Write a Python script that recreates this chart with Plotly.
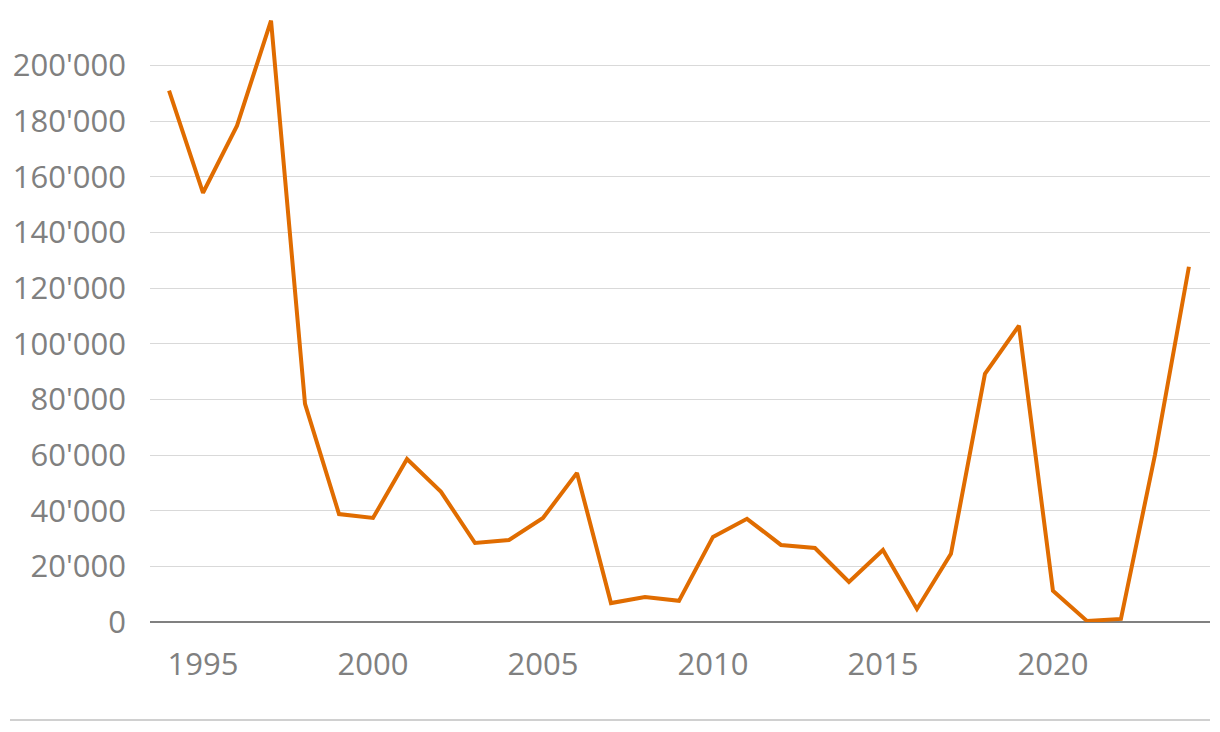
import plotly.graph_objects as go

years = list(range(1994, 2025))
values = [
    191000, 154300, 178400, 216200, 78400, 38800, 37400, 58600, 46800, 28400,
    29500, 37400, 53600, 6800, 9000, 7600, 30600, 37100, 27700, 26600,
    14400, 25900, 4700, 24500, 89200, 106500, 11200, 400, 1100, 60000, 127700,
]
y_ticks = list(range(0, 200001, 20000))
y_labels = [f"{v:,}".replace(",", "'") for v in y_ticks]
x_ticks = [1995, 2000, 2005, 2010, 2015, 2020]

fig = go.Figure()
fig.add_trace(go.Scatter(
    x=years, y=values, mode="lines",
    line=dict(color="#e06c00", width=4),
    showlegend=False,
))

# page body has an 8px default margin, so the figure is shrunk by that much
fig.update_layout(
    width=1212, height=724,
    margin=dict(l=142, r=10, t=2, b=110),
    paper_bgcolor="white", plot_bgcolor="white",
    font=dict(family="Open Sans", size=31, color="#808080"),
)
fig.update_xaxes(
    range=[1993.44, 2024.62], tickvals=x_ticks, showgrid=False,
    zeroline=False, showline=False, ticks="", ticklabelstandoff=21,
)
fig.update_yaxes(
    range=[0, 220000], tickvals=y_ticks, ticktext=y_labels,
    showgrid=True, gridcolor="#d9d9d9", gridwidth=1,
    zeroline=True, zerolinecolor="#808080", zerolinewidth=2,
    ticks="", ticklabelstandoff=23,
)
fig.add_shape(type="line", xref="paper", yref="paper",
              x0=-140 / 1060, x1=1.0, y0=-98 / 612, y1=-98 / 612,
              line=dict(color="#d0d0d0", width=2))

fig.write_html("out.html")
